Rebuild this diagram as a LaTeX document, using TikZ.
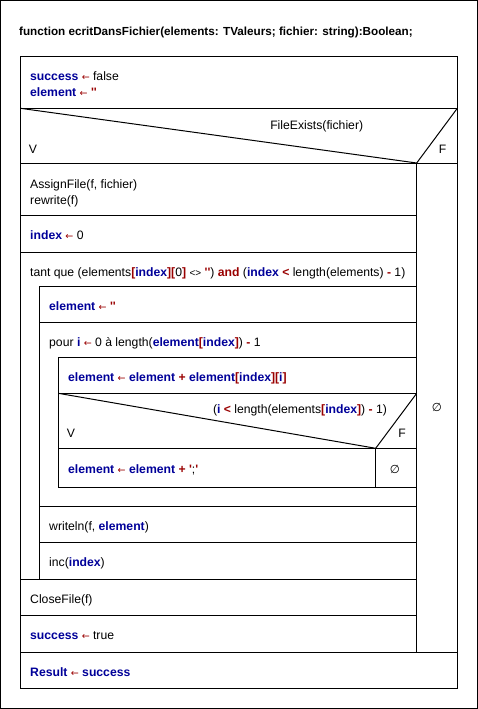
\documentclass[tikz,border=0pt]{standalone}
\usepackage{fontspec}
\setmainfont{Liberation Sans}
\newfontfamily\symfont{DejaVu Sans}
\definecolor{varblue}{HTML}{000099}
\definecolor{opred}{HTML}{990000}
\newcommand{\nsvar}[1]{\textcolor{varblue}{\textbf{#1}}}
\newcommand{\nsop}[1]{\textcolor{opred}{\textbf{#1}}}
\newcommand{\nsq}{\textquotesingle}
\newcommand{\nsasg}{\textcolor{opred}{{\symfont\fontsize{9.5}{10}\selectfont ←}}}
\newcommand{\nsnone}{{\symfont\fontsize{11.5}{12}\selectfont ∅}}

\begin{document}
\begin{tikzpicture}
[x=1pt,y=-1pt,
  lineDecorate/.style={draw=black,line width=1pt},%
  textDecorate/.style={anchor=west,inner sep=0pt,text height=8.5pt,text depth=2.5pt,
    font=\fontsize{12.2}{14}\selectfont},
  labelDecorate/.style={textDecorate,anchor=center}]
\useasboundingbox (0,0) rectangle (478,709);
%% outer frame and title
\draw[lineDecorate] (0.5,0.5) rectangle (477.5,708.5);
\node (title) at (19,33) [textDecorate,font=\fontsize{11.7}{14}\selectfont] {\textbf{function ecritDansFichier(elements: TValeurs; fichier: string):Boolean;}};
%% main box
\draw[lineDecorate] (20.3,56.7) rectangle (457.3,688.3);
%% horizontal separators
\foreach \y/\xa/\xb in {
  108.3/20.3/457.3, 163/20.3/457.3,
  215/20.3/416.7,   252/20.3/416.7,
  286.3/39.3/416.7, 322/39.3/416.7,
  357.3/58.3/416.7, 393.3/58.3/416.7,
  448.3/58.3/416.7, 487.3/58.3/416.7,
  506.3/39.3/416.7, 542.3/39.3/416.7,
  579.3/20.3/416.7, 615.3/20.3/416.7,
  652.3/20.3/457.3}
{
  \draw[lineDecorate] (\xa,\y) -- (\xb,\y);
}
%% vertical separators
\foreach \x/\ya/\yb in {
  416.7/163/652.3,
  39.3/286.3/579.3,
  58.3/357.3/487.3,
  375.7/448.3/487.3}
{
  \draw[lineDecorate] (\x,\ya) -- (\x,\yb);
}
%% condition triangles
\draw[lineDecorate] (20.3,108.3) -- (416.7,163) -- (457.3,108.3);
\draw[lineDecorate] (58.3,393.3) -- (375.7,448.3) -- (416.7,393.3);
%% statements
\node (init1) at (30,77.7) [textDecorate] {\nsvar{success} \nsasg{} false};
\node (init2) at (30,93.7) [textDecorate] {\nsvar{element} \nsasg{} \nsop{\nsq\nsq}};
\node (cond1) at (316.7,126) [labelDecorate] {FileExists(fichier)};
\node (true1) at (33,150) [labelDecorate] {V};
\node (false1) at (442.7,150) [labelDecorate] {F};
\node (empty1) at (437,408) [labelDecorate] {\nsnone};
\node (assign) at (30,185) [textDecorate] {AssignFile(f, fichier)};
\node (rewrite) at (30,201) [textDecorate] {rewrite(f)};
\node (index0) at (30,236) [textDecorate] {\nsvar{index} \nsasg{} 0};
\node (while) at (30,273) [textDecorate] {tant que (elements\nsop{[}\nsvar{index}\nsop{][}0\nsop{]} {\fontsize{10}{12}\selectfont<>} \nsop{\nsq\nsq}) \nsop{and} (\nsvar{index} \nsop{<} length(elements) \nsop{-} 1)};
\node (reset) at (49,307) [textDecorate] {\nsvar{element} \nsasg{} \nsop{\nsq\nsq}};
\node (for) at (49,343.7) [textDecorate] {pour \nsvar{i} \nsasg{} 0 à length(\nsvar{element}\nsop{[}\nsvar{index}\nsop{]}) \nsop{-} 1};
\node (append) at (68,378.3) [textDecorate] {\nsvar{element} \nsasg{} \nsvar{element} \nsop{+} \nsvar{element}\nsop{[}\nsvar{index}\nsop{][}\nsvar{i}\nsop{]}};
\node (cond2) at (300,410.7) [labelDecorate] {(\nsvar{i} \nsop{<} length(elements\nsop{[}\nsvar{index}\nsop{]}) \nsop{-} 1)};
\node (true2) at (71,434.3) [labelDecorate] {V};
\node (false2) at (402,434.3) [labelDecorate] {F};
\node (sep) at (68,470) [textDecorate] {\nsvar{element} \nsasg{} \nsvar{element} \nsop{+} \nsop{\nsq};\nsop{\nsq}};
\node (empty2) at (395,470) [labelDecorate] {\nsnone};
\node (writeln) at (49,527.3) [textDecorate] {writeln(f, \nsvar{element})};
\node (inc) at (49,563.3) [textDecorate] {inc(\nsvar{index})};
\node (close) at (30,600.7) [textDecorate] {CloseFile(f)};
\node (done) at (30,636.7) [textDecorate] {\nsvar{success} \nsasg{} true};
\node (result) at (30,673.3) [textDecorate] {\nsvar{Result} \nsasg{} \nsvar{success}};
\end{tikzpicture}
\end{document}
